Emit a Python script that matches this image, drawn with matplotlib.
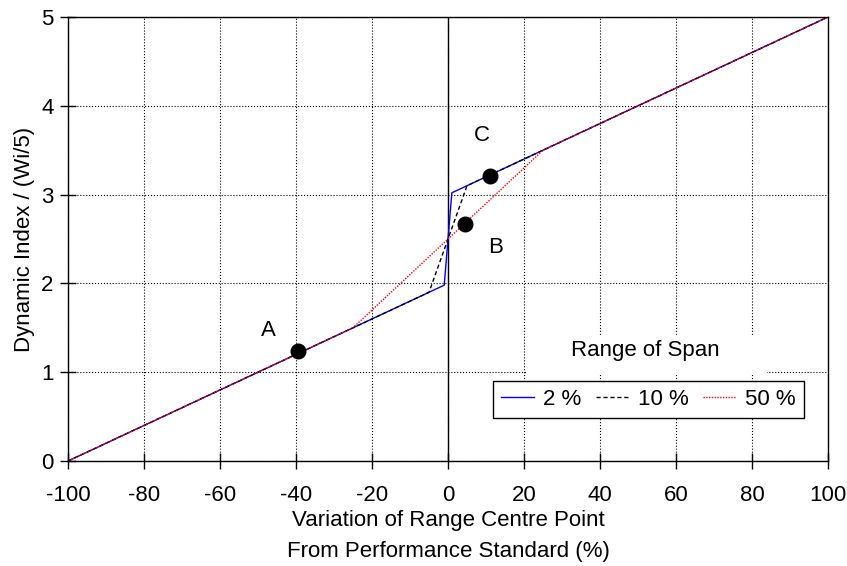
import matplotlib.pyplot as plt
from matplotlib.patches import Rectangle

plt.rcParams['font.family'] = ['Liberation Sans', 'DejaVu Sans']
plt.rcParams['axes.unicode_minus'] = False

# 각 곡선의 꺾이는 점 (x: %, y: Wi/5)
x_2 = [-100, -1, 1, 100]
y_2 = [0, 1.98, 3.02, 5]
x_10 = [-100, -5, 5, 100]
y_10 = [0, 1.9, 3.1, 5]
x_50 = [-100, -25, 25, 100]
y_50 = [0, 1.5, 3.5, 5]

# 표시 점
pt_names = ['A', 'B', 'C']
pt_x = [-39.5, 4.5, 11]
pt_y = [1.24, 2.67, 3.21]
lab_x = [-47.4, 12.4, 9]
lab_y = [1.47, 2.40, 3.66]

fs = 16

fig = plt.figure(figsize=(8.47, 5.66), dpi=100)
ax = fig.add_axes([0.0803, 0.1855, 0.8973, 0.7845])

ax.plot(x_2, y_2, color='blue', lw=1.0, label='2 %')
ax.plot(x_10, y_10, color='black', lw=1.0, ls=(0, (3, 2)), label='10 %')
ax.plot(x_50, y_50, color='red', lw=1.0, ls=(0, (1, 1)), label='50 %')

ax.plot(pt_x, pt_y, 'o', color='black', ms=10.5)
for n, lx, ly in zip(pt_names, lab_x, lab_y):
    ax.text(lx, ly, n, fontsize=fs, ha='center', va='center')

ax.axvline(0, color='black', lw=1.0, zorder=1)

ax.set_xlim(-100, 100)
ax.set_ylim(0, 5)
ax.set_xticks(range(-100, 101, 20))
ax.set_yticks(range(0, 6))
ax.tick_params(direction='inout', length=11, labelsize=fs, width=1)
ax.tick_params(axis='x', pad=12)
ax.tick_params(axis='y', pad=5)
ax.grid(True, color='black', ls=':', lw=0.8)

for s in ax.spines.values():
    s.set_linewidth(1.0)

ax.set_xlabel('Variation of Range Centre Point\nFrom Performance Standard (%)',
              fontsize=fs, linespacing=1.6, labelpad=3)
ax.set_ylabel('Dynamic Index / (Wi/5)', fontsize=fs, labelpad=4)

# 범례 제목 (흰 배경)
ax.add_patch(Rectangle((20.5, 0.98), 63.5, 0.44, facecolor='white',
                       edgecolor='none', zorder=4))
ax.text(51.8, 1.24, 'Range of Span', fontsize=fs, ha='center', va='center',
        zorder=5)

leg = ax.legend(loc='lower left', bbox_to_anchor=(0.559, 0.097),
                ncol=3, fontsize=fs, frameon=True, fancybox=False,
                edgecolor='black', handlelength=1.5, handletextpad=0.4,
                columnspacing=0.65, borderpad=0.35, borderaxespad=0)
leg.get_frame().set_linewidth(1.0)
leg.get_frame().set_alpha(1)

plt.savefig('out.png', dpi=100)
plt.close()
